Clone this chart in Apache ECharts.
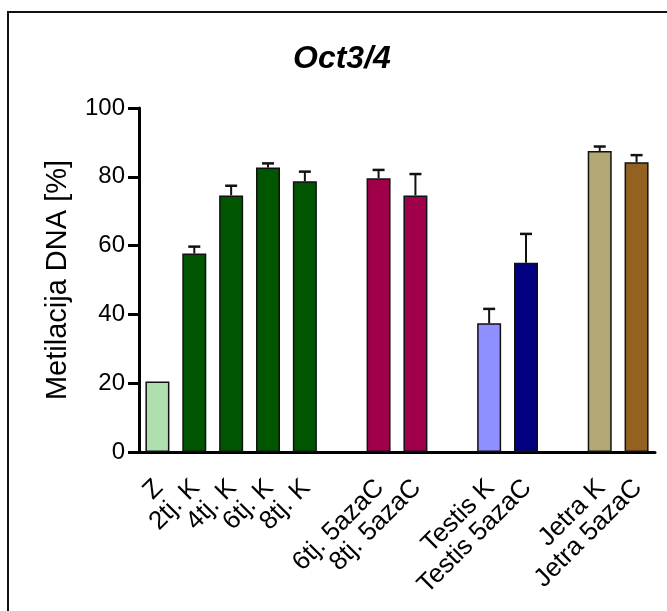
<!DOCTYPE html>
<html>
<head>
<meta charset="utf-8">
<script src="https://cdn.jsdelivr.net/npm/echarts@6/dist/echarts.min.js"></script>
<style>html,body{margin:0;padding:0;background:#fff;}#c{width:667px;height:611px;}</style>
</head>
<body>
<div id="c"></div>
<script>
var categories = ['Z','2tj. K','4tj. K','6tj. K','8tj. K','','6tj. 5azaC','8tj. 5azaC','','Testis K','Testis 5azaC','','Jetra K','Jetra 5azaC'];
var means = [20.5, 57.7, 74.6, 82.7, 78.7, null, 79.6, 74.6, null, 37.4, 55.0, null, 87.5, 84.2];
var errors = [0, 2.0, 2.8, 1.2, 2.8, null, 2.4, 6.2, null, 4.2, 8.4, null, 1.3, 2.1];
var barColors = ['#afdfaf','#005500','#005500','#005500','#005500',null,'#a0004a','#a0004a',null,'#8f8fff','#000080',null,'#b3a774','#936120'];
var yTicks = [0, 20, 40, 60, 80, 100];

var FONT = 'Liberation Sans, Arial, sans-serif';
var chart = echarts.init(document.getElementById('c'), null, {renderer: 'canvas'});

var barData = means.map(function (v, i) {
  return v == null ? null : {value: v, itemStyle: {color: barColors[i]}};
});
var errData = means.map(function (v, i) {
  return v == null || !errors[i] ? null : [i, v, v + errors[i]];
}).filter(function (d) { return d; });

chart.setOption({
  animation: false,
  title: {
    text: 'Oct3/4',
    left: 288, top: 38,
    textStyle: {fontFamily: FONT, fontSize: 32, fontWeight: 'bold', fontStyle: 'italic', color: '#000'}
  },
  graphic: [{
    type: 'rect',
    shape: {x: 8, y: 12, width: 700, height: 700},
    style: {fill: 'none', stroke: '#111', lineWidth: 2},
    silent: true
  }],
  grid: {left: 139, right: 12, top: 108, bottom: 159, containLabel: false},
  xAxis: {
    type: 'category',
    data: categories,
    axisLine: {lineStyle: {color: '#000', width: 3}},
    axisTick: {alignWithLabel: true, length: 10, lineStyle: {color: '#000', width: 3}, interval: 0},
    axisLabel: {interval: 0, rotate: 45, margin: 15, padding: [0, 11, 0, 0], verticalAlign: 'top', color: '#000', fontFamily: FONT, fontSize: 26}
  },
  yAxis: {
    type: 'value',
    min: yTicks[0], max: yTicks[yTicks.length - 1], interval: 20,
    name: 'Metilacija DNA [%]',
    nameLocation: 'middle',
    nameGap: 67,
    nameTextStyle: {fontFamily: FONT, fontSize: 29, color: '#000'},
    splitLine: {show: false},
    axisLine: {show: true, lineStyle: {color: '#000', width: 3}},
    axisTick: {show: true, inside: false, length: 11, lineStyle: {color: '#000', width: 3}},
    axisLabel: {margin: 14, color: '#000', fontFamily: FONT, fontSize: 24}
  },
  series: [{
    type: 'bar',
    data: barData,
    barWidth: 24,
    itemStyle: {borderColor: '#111', borderWidth: 1.5},
    z: 2
  }, {
    type: 'custom',
    data: errData,
    z: 3,
    renderItem: function (params, api) {
      var x = api.value(0);
      var lo = api.coord([x, api.value(1)]);
      var hi = api.coord([x, api.value(2)]);
      var hw = 6;
      return {
        type: 'group',
        children: [{
          type: 'line',
          shape: {x1: lo[0], y1: lo[1], x2: hi[0], y2: hi[1]},
          style: {stroke: '#111', lineWidth: 2}
        }, {
          type: 'line',
          shape: {x1: hi[0] - hw, y1: hi[1], x2: hi[0] + hw, y2: hi[1]},
          style: {stroke: '#111', lineWidth: 2.5}
        }]
      };
    }
  }]
});
</script>
</body>
</html>
